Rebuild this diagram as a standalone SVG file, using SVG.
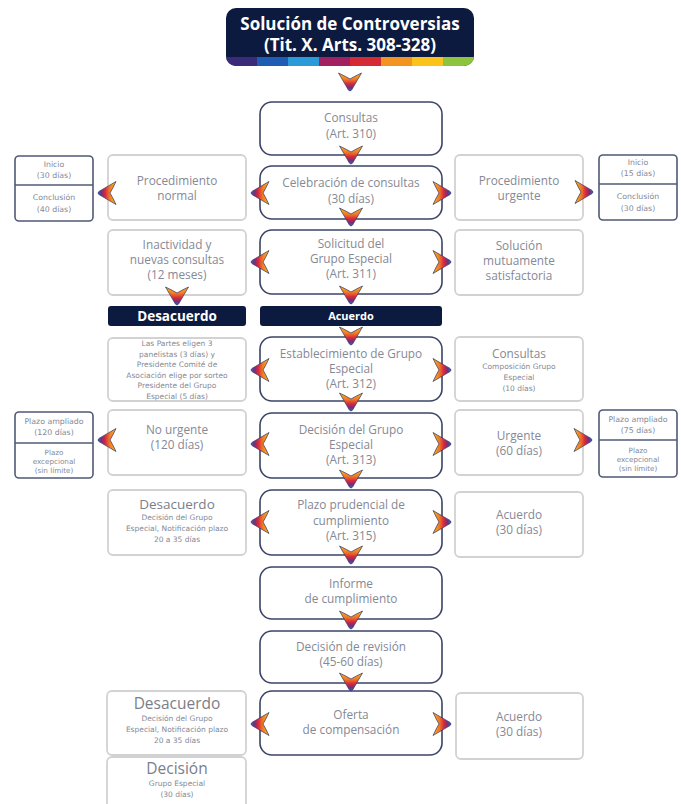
<svg xmlns="http://www.w3.org/2000/svg" xmlns:xlink="http://www.w3.org/1999/xlink" width="681" height="804" viewBox="0 0 681 804">
<defs>
<style>
text{font-family:"Open Sans","Liberation Sans",sans-serif;fill:#858995;text-anchor:middle}
.c{font-size:11.8px}
.l{font-size:11.8px}
.s{font-family:"DejaVu Sans","Liberation Sans",sans-serif;font-size:7.5px}
.f{font-family:"DejaVu Sans","Liberation Sans",sans-serif;font-size:7.8px}
.fs{font-family:"DejaVu Sans","Liberation Sans",sans-serif;font-size:7.2px}
.h{font-size:13.5px;fill:#7a7e8a}
.hb{font-size:15.5px;fill:#7a7e8a}
.w{fill:#ffffff;font-weight:bold}
.cb{fill:#ffffff;stroke:#3b4466;stroke-width:1.6}
.gb{fill:#ffffff;stroke:#d2d2d2;stroke-width:1.8}
.sb{fill:#ffffff;stroke:#4f5a76;stroke-width:1.6}
.dv{stroke:#4f5a76;stroke-width:1.4}
.bar{fill:#0d1a3f}
</style>
<linearGradient id="ag" x1="0" y1="0" x2="0" y2="1">
<stop offset="0" stop-color="#f8b51c"/>
<stop offset="0.35" stop-color="#f07a26"/>
<stop offset="0.6" stop-color="#d8293c"/>
<stop offset="0.8" stop-color="#7c2b78"/>
<stop offset="1" stop-color="#2a66c4"/>
</linearGradient>
<path id="arr" d="M-11.5,-9 Q-4,-5.5 0,-3 Q4,-5.5 11.5,-9 L1.6,8 Q0,10 -1.6,8 Z" fill="url(#ag)" stroke="#34365e" stroke-width="0.7"/>
<clipPath id="tc"><rect x="226" y="8" width="248" height="58" rx="10"/></clipPath>
</defs>

<g id="title">
<rect x="226" y="8" width="248" height="58" rx="10" fill="#0c1a40"/>
<g clip-path="url(#tc)">
<rect x="226" y="57" width="31" height="9" fill="#3a2a78"/>
<rect x="257" y="57" width="31" height="9" fill="#1f5cb4"/>
<rect x="288" y="57" width="31" height="9" fill="#2a9ad8"/>
<rect x="319" y="57" width="31" height="9" fill="#a2205f"/>
<rect x="350" y="57" width="31" height="9" fill="#d42a35"/>
<rect x="381" y="57" width="31" height="9" fill="#f39322"/>
<rect x="412" y="57" width="31" height="9" fill="#fbc21a"/>
<rect x="443" y="57" width="31" height="9" fill="#8cc43f"/>
</g>
<text x="350" y="29.5" class="w" font-size="17">Solución de Controversias</text>
<text x="350" y="51" class="w" font-size="17">(Tit. X. Arts. 308-328)</text>
</g>

<!-- center column -->
<g id="consultas"><rect class="cb" x="260" y="102" width="182" height="53" rx="12"/>
<text class="c" x="351" y="122">Consultas</text><text class="c" x="351" y="138">(Art. 310)</text></g>
<g id="celebracion"><rect class="cb" x="260" y="166" width="182" height="53" rx="12"/>
<text class="c" x="351" y="187">Celebración de consultas</text><text class="c" x="351" y="203">(30 días)</text></g>
<g id="solicitud"><rect class="cb" x="260" y="230" width="182" height="64" rx="12"/>
<text class="c" x="351" y="248">Solicitud del</text><text class="c" x="351" y="263">Grupo Especial</text><text class="c" x="351" y="278">(Art. 311)</text></g>
<g id="acuerdo-bar"><rect class="bar" x="260" y="306" width="182" height="20" rx="3"/>
<text class="w" font-size="11" x="351" y="320">Acuerdo</text></g>
<g id="desacuerdo-bar"><rect class="bar" x="108" y="306" width="138" height="20" rx="3"/>
<text class="w" font-size="13.5" x="177" y="321">Desacuerdo</text></g>
<g id="establecimiento"><rect class="cb" x="260" y="337" width="182" height="64" rx="12"/>
<text class="c" x="351" y="358">Establecimiento de Grupo</text><text class="c" x="351" y="373">Especial</text><text class="c" x="351" y="388">(Art. 312)</text></g>
<g id="decision-grupo"><rect class="cb" x="260" y="413" width="182" height="65" rx="12"/>
<text class="c" x="351" y="434">Decisión del Grupo</text><text class="c" x="351" y="449">Especial</text><text class="c" x="351" y="464">(Art. 313)</text></g>
<g id="plazo-prudencial"><rect class="cb" x="260" y="490" width="182" height="65" rx="12"/>
<text class="c" x="351" y="509">Plazo prudencial de</text><text class="c" x="351" y="525">cumplimiento</text><text class="c" x="351" y="540">(Art. 315)</text></g>
<g id="informe"><rect class="cb" x="260" y="567" width="182" height="52" rx="12"/>
<text class="c" x="351" y="588">Informe</text><text class="c" x="351" y="603">de cumplimiento</text></g>
<g id="revision"><rect class="cb" x="260" y="631" width="182" height="52" rx="12"/>
<text class="c" x="351" y="651">Decisión de revisión</text><text class="c" x="351" y="666">(45-60 días)</text></g>
<g id="oferta"><rect class="cb" x="260" y="691" width="182" height="64" rx="12"/>
<text class="c" x="351" y="719">Oferta</text><text class="c" x="351" y="734">de compensación</text></g>

<!-- left column -->
<g id="proc-normal"><rect class="gb" x="108" y="155" width="138" height="65" rx="5"/>
<text class="l" x="177" y="185">Procedimiento</text><text class="l" x="177" y="200">normal</text></g>
<g id="inactividad"><rect class="gb" x="108" y="230" width="138" height="65" rx="5"/>
<text class="l" x="177" y="249">Inactividad y</text><text class="l" x="177" y="264">nuevas consultas</text><text class="l" x="177" y="279">(12 meses)</text></g>
<g id="partes"><rect class="gb" x="108" y="338" width="138" height="63" rx="5"/>
<text class="s" x="177" y="346">Las Partes eligen 3</text>
<text class="s" x="177" y="356.5">panelistas (3 días) y</text>
<text class="s" x="177" y="367">Presidente Comité de</text>
<text class="s" x="177" y="377.5">Asociación elige por sorteo</text>
<text class="s" x="177" y="388">Presidente del Grupo</text>
<text class="s" x="177" y="398.5">Especial (5 días)</text></g>
<g id="no-urgente"><rect class="gb" x="108" y="410" width="138" height="65" rx="5"/>
<text class="l" x="177" y="434">No urgente</text><text class="l" x="177" y="449">(120 días)</text></g>
<g id="desacuerdo1"><rect class="gb" x="108" y="490" width="138" height="65" rx="5"/>
<text class="h" x="177" y="509">Desacuerdo</text>
<text class="s" x="177" y="520">Decisión del Grupo</text>
<text class="s" x="177" y="531">Especial, Notificación plazo</text>
<text class="s" x="177" y="542">20 a 35 días</text></g>
<g id="desacuerdo2"><rect class="gb" x="107" y="691" width="139" height="64" rx="5"/>
<text class="hb" x="177" y="709">Desacuerdo</text>
<text class="s" x="177" y="721">Decisión del Grupo</text>
<text class="s" x="177" y="732">Especial, Notificación plazo</text>
<text class="s" x="177" y="743">20 a 35 días</text></g>
<g id="decision"><rect class="gb" x="107" y="757" width="139" height="60" rx="5"/>
<text class="hb" x="177" y="774">Decisión</text>
<text class="s" x="177" y="786">Grupo Especial</text>
<text class="s" x="177" y="797">(30 días)</text></g>

<!-- right column -->
<g id="proc-urgente"><rect class="gb" x="455" y="155" width="128" height="65" rx="5"/>
<text class="l" x="519" y="185">Procedimiento</text><text class="l" x="519" y="200">urgente</text></g>
<g id="solucion"><rect class="gb" x="455" y="230" width="128" height="65" rx="5"/>
<text class="l" x="519" y="250">Solución</text><text class="l" x="519" y="265">mutuamente</text><text class="l" x="519" y="280">satisfactoria</text></g>
<g id="consultas2"><rect class="gb" x="455" y="337" width="128" height="64" rx="5"/>
<text class="l" x="519" y="358">Consultas</text>
<text class="s" x="519" y="369">Composición Grupo</text>
<text class="s" x="519" y="380">Especial</text>
<text class="s" x="519" y="391">(10 días)</text></g>
<g id="urgente"><rect class="gb" x="455" y="410" width="128" height="65" rx="5"/>
<text class="l" x="519" y="440">Urgente</text><text class="l" x="519" y="455">(60 días)</text></g>
<g id="acuerdo1"><rect class="gb" x="455" y="492" width="128" height="65" rx="5"/>
<text class="l" x="519" y="519">Acuerdo</text><text class="l" x="519" y="534">(30 días)</text></g>
<g id="acuerdo2"><rect class="gb" x="456" y="693" width="127" height="66" rx="5"/>
<text class="l" x="519" y="721">Acuerdo</text><text class="l" x="519" y="736">(30 días)</text></g>

<!-- far boxes -->
<g id="plazos-normal"><rect class="sb" x="15" y="156" width="78" height="65" rx="4"/>
<line class="dv" x1="15" y1="185" x2="93" y2="185"/>
<text class="f" x="54" y="167">Inicio</text><text class="f" x="54" y="178">(30 días)</text>
<text class="f" x="54" y="200">Conclusión</text><text class="f" x="54" y="212">(40 días)</text></g>
<g id="plazos-urgente"><rect class="sb" x="599" y="155" width="78" height="65" rx="4"/>
<line class="dv" x1="599" y1="184" x2="677" y2="184"/>
<text class="f" x="638" y="165">Inicio</text><text class="f" x="638" y="176">(15 días)</text>
<text class="f" x="638" y="199">Conclusión</text><text class="f" x="638" y="211">(30 días)</text></g>
<g id="plazo-ampliado-120"><rect class="sb" x="15" y="412" width="78" height="66" rx="4"/>
<line class="dv" x1="15" y1="443" x2="93" y2="443"/>
<text class="f" x="54" y="424">Plazo ampliado</text><text class="f" x="54" y="435">(120 días)</text>
<text class="fs" x="54" y="455">Plazo</text><text class="fs" x="54" y="464">excepcional</text><text class="fs" x="54" y="473">(sin límite)</text></g>
<g id="plazo-ampliado-75"><rect class="sb" x="599" y="410" width="78" height="67" rx="4"/>
<line class="dv" x1="599" y1="440" x2="677" y2="440"/>
<text class="f" x="638" y="422">Plazo ampliado</text><text class="f" x="638" y="433">(75 días)</text>
<text class="fs" x="638" y="453">Plazo</text><text class="fs" x="638" y="462">excepcional</text><text class="fs" x="638" y="471">(sin límite)</text></g>

<!-- connectors -->
<g id="connectors">
<use href="#arr" transform="translate(350,82)"/>
<use href="#arr" transform="translate(351,155)"/>
<use href="#arr" transform="translate(351,217)"/>
<use href="#arr" transform="translate(351,295)"/>
<use href="#arr" transform="translate(351,336)"/>
<use href="#arr" transform="translate(351,402)"/>
<use href="#arr" transform="translate(351,479)"/>
<use href="#arr" transform="translate(351,555)"/>
<use href="#arr" transform="translate(351,620)"/>
<use href="#arr" transform="translate(351,682)"/>
<use href="#arr" transform="translate(177,296)"/>
<use href="#arr" transform="translate(260,193) rotate(90)"/>
<use href="#arr" transform="translate(260,262) rotate(90)"/>
<use href="#arr" transform="translate(260,370) rotate(90)"/>
<use href="#arr" transform="translate(260,444) rotate(90)"/>
<use href="#arr" transform="translate(260,522) rotate(90)"/>
<use href="#arr" transform="translate(260,724) rotate(90)"/>
<use href="#arr" transform="translate(442,193) rotate(-90)"/>
<use href="#arr" transform="translate(442,262) rotate(-90)"/>
<use href="#arr" transform="translate(442,370) rotate(-90)"/>
<use href="#arr" transform="translate(442,444) rotate(-90)"/>
<use href="#arr" transform="translate(442,522) rotate(-90)"/>
<use href="#arr" transform="translate(442,724) rotate(-90)"/>
<use href="#arr" transform="translate(107,193) rotate(90)"/>
<use href="#arr" transform="translate(107,440) rotate(90)"/>
<use href="#arr" transform="translate(584,192) rotate(-90)"/>
<use href="#arr" transform="translate(583,440) rotate(-90)"/>
</g>
</svg>
